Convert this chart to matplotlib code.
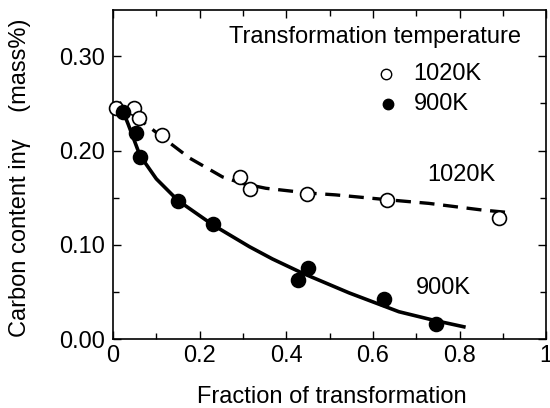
import matplotlib.pyplot as plt
import matplotlib as mpl
from matplotlib.ticker import MultipleLocator

mpl.rcParams["font.family"] = ["Liberation Sans", "DejaVu Sans"]

# ---------- measured points ----------
x_1020 = [0.008, 0.049, 0.060, 0.112, 0.293, 0.317, 0.449, 0.633, 0.891]
y_1020 = [0.245, 0.245, 0.235, 0.217, 0.172, 0.159, 0.154, 0.148, 0.128]

x_900 = [0.024, 0.054, 0.062, 0.150, 0.231, 0.426, 0.451, 0.625, 0.746]
y_900 = [0.241, 0.219, 0.193, 0.147, 0.122, 0.063, 0.075, 0.043, 0.0155]

# ---------- fitted curves ----------
fx_1020 = [0.0, 0.035, 0.07, 0.12, 0.177, 0.253, 0.30, 0.353, 0.45, 0.514, 0.63, 0.729, 0.851, 0.92]
fy_1020 = [0.250, 0.240, 0.230, 0.212, 0.192, 0.172, 0.165, 0.160, 0.155, 0.153, 0.148, 0.144, 0.137, 0.134]

fx_900 = [0.016, 0.035, 0.062, 0.10, 0.15, 0.231, 0.315, 0.368, 0.437, 0.545, 0.66, 0.74, 0.81]
fy_900 = [0.250, 0.228, 0.195, 0.170, 0.147, 0.121, 0.098, 0.085, 0.070, 0.049, 0.029, 0.020, 0.013]

xticks = [0, 0.2, 0.4, 0.6, 0.8, 1.0]
xtick_labels = ["0", "0.2", "0.4", "0.6", "0.8", "1"]
yticks = [0.0, 0.1, 0.2, 0.3]
ytick_labels = ["0.00", "0.10", "0.20", "0.30"]

FS = 17

fig = plt.figure(figsize=(5.5, 4.08), dpi=100)
ax = fig.add_axes([0.2055, 0.169, 0.7875, 0.806])

ax.plot(fx_1020, fy_1020, color="black", lw=2.4, dashes=(4.5, 2.6), zorder=2)
ax.plot(fx_900, fy_900, color="black", lw=2.6, zorder=2)

ax.plot(x_1020, y_1020, "o", ms=10, mfc="white", mec="black", mew=1.2, zorder=3, clip_on=False)
ax.plot(x_900, y_900, "o", ms=10, mfc="black", mec="black", mew=1.2, zorder=3, clip_on=False)

ax.set_xlim(0, 1.0)
ax.set_ylim(0, 0.349)
ax.set_xticks(xticks)
ax.set_xticklabels(xtick_labels)
ax.set_yticks(yticks)
ax.set_yticklabels(ytick_labels)
ax.xaxis.set_minor_locator(MultipleLocator(0.1))
ax.yaxis.set_minor_locator(MultipleLocator(0.05))
ax.tick_params(which="both", direction="in", top=True, right=True, labelsize=FS, width=1.0)
ax.tick_params(which="major", length=6)
ax.tick_params(axis="x", which="major", pad=4)
ax.tick_params(axis="y", which="major", pad=6)
ax.tick_params(which="minor", length=4)
for s in ax.spines.values():
    s.set_linewidth(1.2)

ax.set_xlabel("Fraction of transformation", fontsize=FS)
ax.xaxis.set_label_coords(0.504, -0.142)
ax.set_ylabel("Carbon content in\u03b3    (mass%)", fontsize=FS)
ax.yaxis.set_label_coords(-0.19, 0.492)

# curve labels
ax.text(0.805, 0.50, "1020K", fontsize=FS, ha="center", va="center", transform=ax.transAxes)
ax.text(0.763, 0.154, "900K", fontsize=FS, ha="center", va="center", transform=ax.transAxes)

# legend drawn by hand
ax.text(0.268, 0.918, "Transformation temperature", fontsize=FS, ha="left", va="center",
        transform=ax.transAxes)
ax.plot([0.630], [0.807], "o", ms=7.5, mfc="white", mec="black", mew=1.0,
        transform=ax.transAxes, clip_on=False)
ax.plot([0.634], [0.716], "o", ms=7.5, mfc="black", mec="black", mew=1.0,
        transform=ax.transAxes, clip_on=False)
ax.text(0.694, 0.807, "1020K", fontsize=FS, ha="left", va="center", transform=ax.transAxes)
ax.text(0.694, 0.716, "900K", fontsize=FS, ha="left", va="center", transform=ax.transAxes)

fig.savefig("out.png", dpi=100, facecolor="white")
